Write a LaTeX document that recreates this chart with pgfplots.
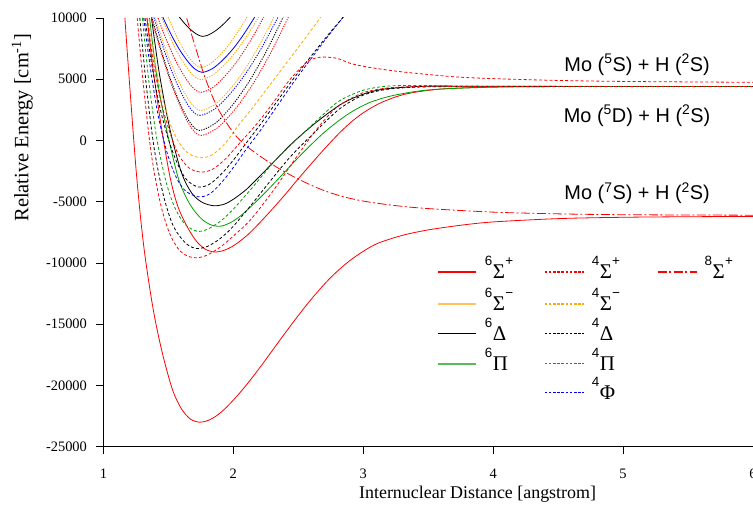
\documentclass[border=0pt]{standalone}
\usepackage{fontspec}
\setmainfont{Liberation Serif}
\setsansfont{Liberation Sans}
\usepackage{pgfplots}
\pgfplotsset{compat=1.18}
\usetikzlibrary{calc}
\definecolor{cred}{RGB}{255,0,0}
\definecolor{corange}{RGB}{255,170,0}
\definecolor{cgreen}{RGB}{0,160,0}
\definecolor{cblue}{RGB}{0,0,255}
\definecolor{lorange}{RGB}{255,195,90}
\definecolor{lgreen}{RGB}{90,185,90}
\newcommand\Sup[1]{\raisebox{0.62em}{\sffamily\fontsize{13.5}{14}\selectfont #1}}
\newcommand\leg[3]{\Sup{#1}\kern0.5bp #2\kern0.3bp\Sup{#3}}
\tikzset{
  dotq/.style={dash pattern=on 1.2bp off 1.3bp, line width=0.9bp},
  dashq/.style={dash pattern=on 3bp off 2.2bp, line width=0.8bp},
  legq/.style={dash pattern=on 2.6bp off 1.6bp, line width=1.5bp},
  dd8/.style={dash pattern=on 9bp off 2.5bp on 2bp off 2.5bp, line width=0.8bp},
  sol/.style={line width=0.8bp},
  lsol/.style={line width=1.7bp},
  lgt/.style={anchor=west, inner sep=0pt, text height=22bp, text depth=8bp, font=\fontsize{21}{24}\selectfont},
}
\begin{document}
\begin{tikzpicture}
\begin{axis}[
  scale only axis, width=650bp, height=429bp,
  xmin=1, xmax=6, ymin=-25000, ymax=10000,
  axis lines=left, axis line style={-, line width=0.8bp},
  xtick={1,2,3,4,5,6}, ytick={-25000,-20000,-15000,-10000,-5000,0,5000,10000},
  tick align=outside, major tick length=7bp, tick style={line width=0.8bp, black},
  minor tick num=0, scaled y ticks=false,
  /pgf/number format/assume math mode=true,
  /pgf/number format/1000 sep={},
  ticklabel style={font=\fontsize{14.5}{17}\selectfont},
  xticklabel style={yshift=-12bp},
  yticklabel style={xshift=-6bp},
  xlabel={Internuclear Distance [angstrom]},
  ylabel={Relative Energy [cm\textsuperscript{-1}]},
  xlabel style={font=\fontsize{18}{21}\selectfont, at={(axis description cs:0.576,-0.110)}, anchor=center},
  ylabel style={font=\fontsize{20.5}{24}\selectfont, at={(axis description cs:-0.125,0.744)}, anchor=center},
]
\coordinate (bl) at (rel axis cs:0,0);
\coordinate (tr) at (rel axis cs:1,1);
% ground 6Sigma+
\addplot[cred, sol, smooth] coordinates {(1.165,10000)(1.2,4800)(1.255,-2850)(1.31,-8600)(1.38,-13600)(1.45,-17200)(1.53,-20300)(1.6,-21900)(1.67,-22750)(1.74,-23000)(1.8,-22880)(1.86,-22550)(1.92,-22050)(1.98,-21420)(2.05,-20600)(2.12,-19700)(2.2,-18600)(2.3,-17150)(2.4,-15700)(2.51,-14150)(2.62,-12700)(2.73,-11400)(2.84,-10300)(2.95,-9400)(3.1,-8450)(3.3,-7750)(3.5,-7300)(3.75,-6920)(4,-6650)(4.5,-6380)(5,-6270)(5.5,-6225)(6,-6200)};
% 6Sigma+ (5D)
\addplot[cred, sol, smooth] coordinates {(1.335,10000)(1.38,6000)(1.44,1500)(1.51,-2850)(1.57,-5300)(1.64,-6950)(1.71,-8150)(1.78,-8850)(1.85,-9100)(1.92,-9000)(2.0,-8600)(2.1,-7800)(2.2,-6750)(2.3,-5600)(2.4,-4400)(2.49,-3250)(2.6,-1900)(2.7,-700)(2.82,650)(2.92,1620)(3.02,2400)(3.15,3150)(3.33,3800)(3.6,4200)(4,4370)(4.5,4400)(6,4400)};
% 6Pi
\addplot[cgreen, sol, smooth] coordinates {(1.355,10000)(1.41,5300)(1.48,1200)(1.57,-2850)(1.63,-4500)(1.69,-5600)(1.76,-6450)(1.83,-6900)(1.9,-7000)(1.97,-6750)(2.05,-6200)(2.15,-5250)(2.25,-4200)(2.36,-2980)(2.45,-1950)(2.55,-850)(2.64,80)(2.72,850)(2.82,1680)(2.92,2400)(3.05,3100)(3.2,3600)(3.4,4000)(3.6,4200)(4,4350)(4.5,4400)(6,4400)};
% 6Delta lower
\addplot[black, sol, smooth] coordinates {(1.37,10000)(1.43,5500)(1.51,1000)(1.6,-2600)(1.68,-4300)(1.76,-5050)(1.85,-5330)(1.93,-5200)(2.0,-4800)(2.1,-4000)(2.2,-2950)(2.3,-1870)(2.45,-250)(2.6,1150)(2.72,2150)(2.82,2900)(2.92,3450)(3.05,3950)(3.2,4250)(3.5,4430)(4,4420)(6,4400)};
% 4Pi
\addplot[cgreen, dashq, smooth] coordinates {(1.3,10000)(1.35,4800)(1.41,200)(1.48,-3300)(1.55,-5500)(1.63,-6850)(1.72,-7410)(1.8,-7250)(1.9,-6600)(2.0,-5600)(2.15,-3800)(2.3,-1900)(2.45,-300)(2.56,810)(2.7,2200)(2.82,3260)(3.0,4100)(3.2,4450)(3.5,4480)(4,4430)(6,4400)};
% 4Delta
\addplot[black, dashq, smooth] coordinates {(1.28,10000)(1.33,4500)(1.39,-600)(1.46,-4400)(1.53,-6800)(1.6,-8000)(1.66,-8600)(1.72,-8820)(1.8,-8650)(1.9,-8000)(2.0,-7000)(2.15,-5100)(2.3,-3100)(2.45,-1200)(2.64,810)(2.82,2600)(3.0,3700)(3.2,4200)(3.5,4380)(4,4400)(6,4400)};
% 4Sigma+ (5D)
\addplot[cred, dashq, smooth] coordinates {(1.26,10000)(1.31,4300)(1.37,-1200)(1.44,-5200)(1.51,-7600)(1.58,-8900)(1.65,-9450)(1.72,-9580)(1.8,-9350)(1.9,-8700)(2.0,-7800)(2.13,-6500)(2.3,-4200)(2.45,-1900)(2.6,350)(2.72,1900)(2.82,2900)(3.0,3900)(3.2,4300)(3.5,4420)(4,4400)(6,4400)};
% blue dashed
\addplot[cblue, dashq, smooth] coordinates {(1.31,10000)(1.36,6000)(1.42,2100)(1.49,-1000)(1.56,-3000)(1.63,-4100)(1.73,-4600)(1.82,-4350)(1.92,-3300)(2.0,-2200)(2.1,-700)(2.2,700)(2.33,2700)(2.46,4700)(2.6,6700)(2.72,8400)(2.84,10000)(2.9,10800)};
% black dashed upper
\addplot[black, dashq, smooth] coordinates {(1.32,10000)(1.37,6300)(1.43,2900)(1.5,100)(1.57,-1900)(1.64,-3200)(1.73,-3800)(1.82,-3550)(1.92,-2600)(2.0,-1600)(2.1,-200)(2.2,1200)(2.33,3100)(2.46,5000)(2.6,6900)(2.72,8500)(2.84,10000)(2.9,10800)};
% orange dashed
\addplot[corange, dashq, smooth] coordinates {(1.34,10000)(1.39,6800)(1.45,3700)(1.52,1200)(1.59,-300)(1.66,-1100)(1.75,-1410)(1.84,-1150)(1.94,-200)(2.03,1100)(2.15,2700)(2.3,4800)(2.45,6900)(2.55,8300)(2.64,9600)(2.7,10500)};
% red dashed hump (5S)
\addplot[cred, dashq, smooth] coordinates {(1.335,10000)(1.38,6700)(1.44,3300)(1.51,700)(1.58,-1200)(1.66,-2250)(1.75,-2580)(1.84,-2350)(1.94,-1500)(2.05,-200)(2.16,1100)(2.28,2700)(2.43,4900)(2.56,6350)(2.63,6720)(2.7,6810)(2.8,6700)(2.9,6300)(3.03,6000)(3.3,5600)(3.7,5200)(4,5050)(4.5,4900)(5,4820)(5.5,4780)(6,4750)};
% upper states
\addplot[corange, dotq, smooth] coordinates {(1.4625,11010)(1.50,10000)(1.55,8790)(1.60,7740)(1.65,6900)(1.70,6250)(1.75,5970)(1.82,6250)(1.89,6900)(1.96,7740)(2.03,8790)(2.10,10000)(2.1525,11010)};
\addplot[cblue, sol, smooth] coordinates {(1.415,11110)(1.46,10000)(1.52,8668)(1.58,7514)(1.64,6581)(1.70,5871)(1.76,5560)(1.84,5871)(1.92,6581)(2.00,7514)(2.08,8668)(2.16,10000)(2.22,11110)};
\addplot[corange, dotq, smooth] coordinates {(1.405,11258)(1.45,10000)(1.51,8491)(1.57,7183)(1.63,6127)(1.69,5322)(1.75,4970)(1.838,5322)(1.926,6127)(2.014,7183)(2.102,8491)(2.19,10000)(2.256,11258)};
\addplot[cred, dotq, smooth] coordinates {(1.3705,11518)(1.42,10000)(1.486,8179)(1.552,6601)(1.618,5326)(1.684,4355)(1.75,3930)(1.846,4355)(1.942,5326)(2.038,6601)(2.134,8179)(2.23,10000)(2.302,11518)};
\addplot[corange, dotq, smooth] coordinates {(1.3475,11890)(1.40,10000)(1.47,7732)(1.54,5766)(1.61,4179)(1.68,2969)(1.75,2440)(1.862,2969)(1.974,4179)(2.086,5766)(2.198,7732)(2.31,10000)(2.394,11890)};
\addplot[cblue, dotq, smooth] coordinates {(1.3375,11990)(1.39,10000)(1.46,7612)(1.53,5542)(1.60,3871)(1.67,2597)(1.74,2040)(1.86,2597)(1.98,3871)(2.10,5542)(2.22,7612)(2.34,10000)(2.43,11990)};
\addplot[black, dotq, smooth] coordinates {(1.32,12295)(1.375,10000)(1.448,7246)(1.521,4859)(1.594,2931)(1.667,1463)(1.74,820)(1.868,1463)(1.996,2931)(2.124,4859)(2.252,7246)(2.38,10000)(2.476,12295)};
\addplot[cred, dotq, smooth] coordinates {(1.313,12398)(1.37,10000)(1.446,7123)(1.522,4630)(1.598,2616)(1.674,1081)(1.75,410)(1.884,1081)(2.018,2616)(2.152,4630)(2.286,7123)(2.42,10000)(2.5205,12398)};
% top 6Delta
\addplot[black, sol, smooth] coordinates {(1.564,10375)(1.59,10000)(1.625,9550)(1.66,9160)(1.695,8845)(1.73,8605)(1.765,8500)(1.806,8605)(1.847,8845)(1.888,9160)(1.929,9550)(1.97,10000)(2.0,10375)};
% 8Sigma+
\addplot[cred, dd8, smooth] coordinates {(1.6,11200)(1.64,10000)(1.7,7900)(1.78,5200)(1.87,2850)(1.95,1400)(2.03,250)(2.13,-700)(2.25,-1600)(2.36,-2350)(2.49,-3100)(2.62,-3750)(2.74,-4250)(2.88,-4680)(3.03,-5000)(3.25,-5320)(3.5,-5560)(4,-5850)(4.5,-5990)(5,-6060)(6,-6100)};
% annotations
\node[font=\sffamily\fontsize{20}{24}\selectfont, anchor=base] at (axis cs:5.108,5640) {Mo (\textsuperscript{5}S) + H (\textsuperscript{2}S)};
\node[font=\sffamily\fontsize{20}{24}\selectfont, anchor=base] at (axis cs:5.108,1490) {Mo (\textsuperscript{5}D) + H (\textsuperscript{2}S)};
\node[font=\sffamily\fontsize{20}{24}\selectfont, anchor=base] at (axis cs:5.108,-4830) {Mo (\textsuperscript{7}S) + H (\textsuperscript{2}S)};
% legend key
\draw[cred, lsol]  (rel axis cs:0.5146,0.4079) -- (rel axis cs:0.5731,0.4079);
\draw[cred, legq] (rel axis cs:0.6792,0.4079) -- (rel axis cs:0.7392,0.4079);
\draw[cred, dd8, line width=1.4bp]  (rel axis cs:0.8531,0.4079) -- (rel axis cs:0.9131,0.4079);
\draw[lorange, lsol] (rel axis cs:0.5146,0.3333) -- (rel axis cs:0.5731,0.3333);
\draw[corange, legq] (rel axis cs:0.6792,0.3333) -- (rel axis cs:0.7392,0.3333);
\draw[black, line width=1.1bp]  (rel axis cs:0.5146,0.2634) -- (rel axis cs:0.5731,0.2634);
\draw[black, legq, line width=1.1bp] (rel axis cs:0.6792,0.2634) -- (rel axis cs:0.7392,0.2634);
\draw[lgreen, lsol] (rel axis cs:0.5146,0.1935) -- (rel axis cs:0.5731,0.1935);
\draw[cgreen, legq] (rel axis cs:0.6792,0.1935) -- (rel axis cs:0.7392,0.1935);
\draw[cblue, legq] (rel axis cs:0.6792,0.1259) -- (rel axis cs:0.7392,0.1259);
\node[lgt] at (rel axis cs:0.5869,0.4079) {\leg{6}{Σ}{+}};
\node[lgt] at (rel axis cs:0.7515,0.4079) {\leg{4}{Σ}{+}};
\node[lgt] at (rel axis cs:0.9254,0.4079) {\leg{8}{Σ}{+}};
\node[lgt] at (rel axis cs:0.5869,0.3333) {\leg{6}{Σ}{−}};
\node[lgt] at (rel axis cs:0.7515,0.3333) {\leg{4}{Σ}{−}};
\node[lgt] at (rel axis cs:0.5869,0.2634) {\leg{6}{Δ}{}};
\node[lgt] at (rel axis cs:0.7515,0.2634) {\leg{4}{Δ}{}};
\node[lgt] at (rel axis cs:0.5869,0.1935) {\leg{6}{Π}{}};
\node[lgt] at (rel axis cs:0.7515,0.1935) {\leg{4}{Π}{}};
\node[lgt] at (rel axis cs:0.7515,0.1259) {\leg{4}{Φ}{}};
\end{axis}
\pgfresetboundingbox
\path ($(bl)+(-103.5bp,-59bp)$) rectangle ($(tr)+(0bp,18bp)$);
\end{tikzpicture}
\end{document}
